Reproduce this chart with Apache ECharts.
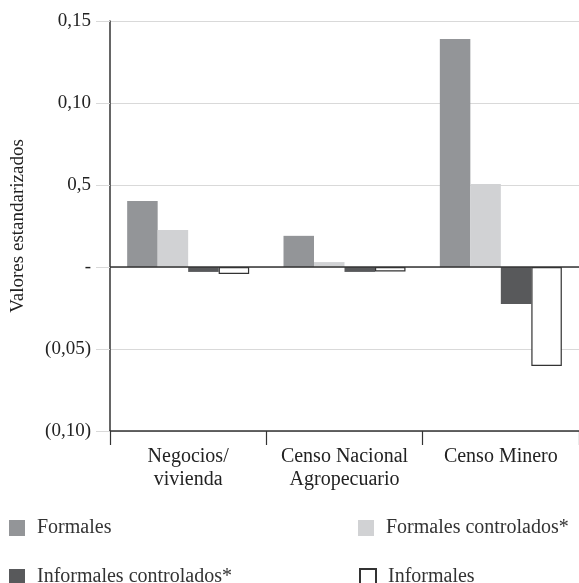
<!DOCTYPE html>
<html><head><meta charset="utf-8">
<script src="https://cdn.jsdelivr.net/npm/echarts@6/dist/echarts.min.js"></script>
<style>html,body{margin:0;padding:0;background:#fff}#c{width:579px;height:583px}</style>
</head><body><div id="c"></div>
<script>
const categories = ['Negocios/\nvivienda', 'Censo Nacional\nAgropecuario', 'Censo Minero'];
const formales = [0.0402, 0.0190, 0.1390];
const formalesControlados = [0.0226, 0.0030, 0.0506];
const informalesControlados = [-0.0030, -0.0030, -0.0226];
const informales = [-0.0043, -0.0027, -0.0604];
const tickValues = [-0.10, -0.05, 0, 0.05, 0.10, 0.15];
const tickLabels = ['(0,10)', '(0,05)', '-', '0,5', '0,10', '0,15'];

const font = 'Liberation Serif';
const chart = echarts.init(document.getElementById('c'));
function legendAt(name, left, top) {
  return {
    data: [name], left: left, top: top, icon: 'rect', itemWidth: 16, itemHeight: 16,
    textStyle: { fontFamily: font, fontSize: 20, color: '#333', padding: [0, 0, 0, 7] }, itemGap: 0,
    selectedMode: false
  };
}
chart.setOption({
  animation: false,
  grid: { left: 110, right: 0, top: 21, bottom: 152, outerBoundsMode: 'none', containLabel: false },
  legend: [
    legendAt('Formales', 4, 513),
    legendAt('Formales controlados*', 353, 513),
    legendAt('Informales controlados*', 4, 562),
    legendAt('Informales', 354, 562)
  ],
  xAxis: {
    type: 'category', data: categories,
    axisLine: { onZero: false, lineStyle: { color: '#333', width: 1.5 } },
    axisTick: { show: true, interval: 0, length: 14, lineStyle: { color: '#333', width: 1.2 } },
    axisLabel: { interval: 0, fontFamily: font, fontSize: 20, color: '#222', margin: 14, lineHeight: 23 }
  },
  yAxis: {
    type: 'value', min: -0.10, max: 0.15, interval: 0.05,
    name: 'Valores estandarizados', nameLocation: 'middle', nameGap: 82, nameRotate: 90,
    nameTextStyle: { fontFamily: font, fontSize: 19, color: '#222' },
    axisLine: { show: true, lineStyle: { color: '#333', width: 1.5 } },
    axisTick: { show: true, length: 14, lineStyle: { color: '#d9d9d9' } },
    axisLabel: {
      fontFamily: font, fontSize: 19, color: '#222', margin: 19,
      formatter: function (v) {
        for (let i = 0; i < tickValues.length; i++) if (Math.abs(tickValues[i] - v) < 1e-9) return tickLabels[i];
        return '';
      }
    },
    splitLine: { lineStyle: { color: '#d9d9d9', width: 1.2 } }
  },
  series: [
    { name: 'Formales', type: 'bar', data: formales, barWidth: 30.5, barGap: '0%',
      itemStyle: { color: '#939598' },
      markLine: { silent: true, symbol: 'none', label: { show: false },
        lineStyle: { color: '#333', width: 1.5, type: 'solid' }, data: [{ yAxis: 0 }] } },
    { name: 'Formales controlados*', type: 'bar', data: formalesControlados, barWidth: 30.5, barGap: '0%',
      itemStyle: { color: '#d1d2d4' } },
    { name: 'Informales controlados*', type: 'bar', data: informalesControlados, barWidth: 30.5, barGap: '0%',
      itemStyle: { color: '#58595b' } },
    { name: 'Informales', type: 'bar', data: informales, barWidth: 30.5, barGap: '0%',
      itemStyle: { color: '#ffffff', borderColor: '#333', borderWidth: 1.2 } }
  ]
});
</script>
</body></html>
